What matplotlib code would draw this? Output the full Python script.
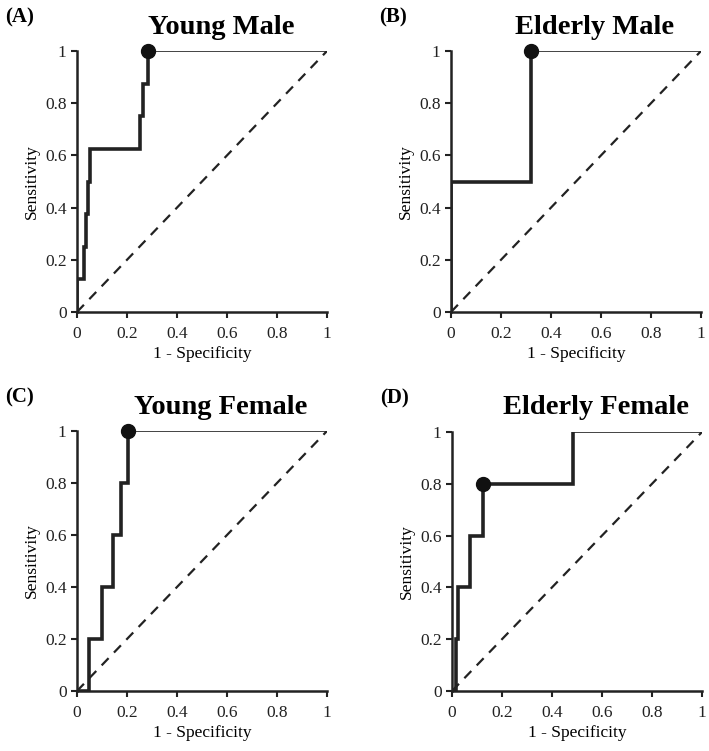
import matplotlib
matplotlib.use("Agg")
import matplotlib.pyplot as plt

plt.rcParams['font.family'] = ['Liberation Serif', 'DejaVu Serif']

titles = ["Young Male", "Elderly Male", "Young Female", "Elderly Female"]
labels = ["(A)", "(B)", "(C)", "(D)"]

# ROC step curves (1 - specificity, sensitivity)
ym_x = [0, 0, 0.027, 0.027, 0.036, 0.036, 0.043, 0.043, 0.05, 0.05, 0.25, 0.25, 0.262, 0.262, 0.283, 0.283]
ym_y = [0, 0.125, 0.125, 0.25, 0.25, 0.375, 0.375, 0.5, 0.5, 0.625, 0.625, 0.75, 0.75, 0.875, 0.875, 1.0]
em_x = [0, 0, 0.32, 0.32]
em_y = [0, 0.5, 0.5, 1.0]
yf_x = [0, 0.047, 0.047, 0.10, 0.10, 0.145, 0.145, 0.175, 0.175, 0.205, 0.205]
yf_y = [0, 0, 0.2, 0.2, 0.4, 0.4, 0.6, 0.6, 0.8, 0.8, 1.0]
ef_x = [0, 0.016, 0.016, 0.025, 0.025, 0.073, 0.073, 0.125, 0.125, 0.485, 0.485]
ef_y = [0, 0, 0.2, 0.2, 0.4, 0.4, 0.6, 0.6, 0.8, 0.8, 1.0]

curves = [(ym_x, ym_y), (em_x, em_y), (yf_x, yf_y), (ef_x, ef_y)]
# optimal cut-off points
opt_x = [0.283, 0.32, 0.205, 0.125]
opt_y = [1.0, 1.0, 1.0, 0.8]

ticks = [0, 0.2, 0.4, 0.6, 0.8, 1]
tick_labels = ["0", "0.2", "0.4", "0.6", "0.8", "1"]

fig = plt.figure(figsize=(7.09, 7.51), dpi=100)
W, H = 709, 751
boxes = [(77, 51, 327, 312), (451, 51, 701, 312), (77, 431, 327, 691), (452, 432, 702, 691)]

for i, (l, t, r, b) in enumerate(boxes):
    ax = fig.add_axes([l / W, (H - b) / H, (r - l) / W, (b - t) / H])
    x, y = curves[i]
    ax.plot([0, 1], [0, 1], ls=(0, (4.5, 3.5)), color='#222222', lw=1.6)
    ax.plot(x, y, color='#222222', lw=2.6, solid_joinstyle='miter', zorder=3)
    ax.plot([x[-1], 1], [1, 1], color='#222222', lw=1.2, zorder=3)
    ax.plot([opt_x[i]], [opt_y[i]], 'o', color='#111111', ms=10, zorder=5, clip_on=False)
    ax.set_xlim(0, 1)
    ax.set_ylim(0, 1)
    ax.set_xticks(ticks)
    ax.set_xticklabels(tick_labels)
    ax.set_yticks(ticks)
    ax.set_yticklabels(tick_labels)
    for s in ['top', 'right']:
        ax.spines[s].set_visible(False)
    for s in ['left', 'bottom']:
        ax.spines[s].set_linewidth(1.8)
        ax.spines[s].set_color('#222222')
    ax.tick_params(direction='out', length=4, width=1.5, labelsize=12.5, colors='#222222')
    ax.tick_params(axis='x', pad=6)
    ax.set_xlabel("1 - Specificity", fontsize=12.5, labelpad=3)
    ax.set_ylabel("Sensitivity", fontsize=12.5, labelpad=4)
    fig.text((l + r) / 2 / W + 19 / W, 1 - 27 / H - (t - 51) / H, titles[i],
             fontsize=20.5, fontweight='bold', ha='center', va='center')
    fig.text((l - 72) / W, 1 - (t - 34) / H, labels[i], fontsize=15, fontweight='bold', ha='left', va='center')

fig.savefig("out.png", dpi=100)
